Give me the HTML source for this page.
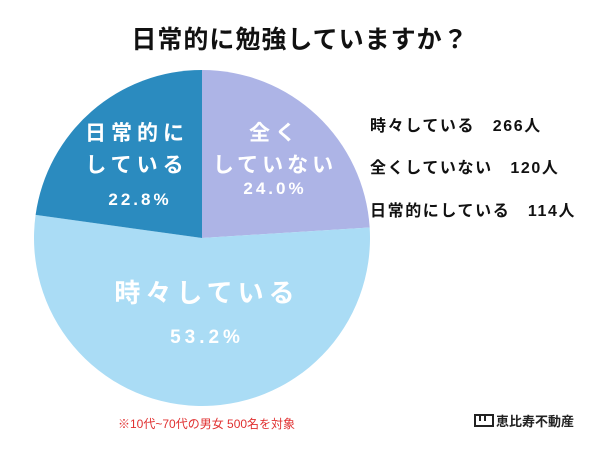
<!DOCTYPE html>
<html><head><meta charset="utf-8"><style>
body{margin:0;width:600px;height:450px;background:#fff;overflow:hidden;font-family:"Liberation Sans","Noto Sans CJK JP",sans-serif;}
</style></head><body>
<svg width="600" height="450" font-family="'Liberation Sans','Noto Sans CJK JP',sans-serif">
<text x="300" y="48" text-anchor="middle" font-size="25" font-weight="bold" fill="#111" letter-spacing="1">日常的に勉強していますか？</text>
<g id="slices"></g>
<g fill="#fff" font-weight="bold" text-anchor="middle">
<text x="137" y="140" font-size="21" letter-spacing="5">日常的に</text>
<text x="137" y="172" font-size="21" letter-spacing="5">している</text>
<text x="140" y="205" font-size="17" letter-spacing="3">22.8%</text>
<text x="275" y="140" font-size="21" letter-spacing="5">全く</text>
<text x="275" y="172" font-size="21" letter-spacing="4">していない</text>
<text x="275" y="194" font-size="17" letter-spacing="3">24.0%</text>
<text x="207" y="302" font-size="26" letter-spacing="5">時々している</text>
<text x="207" y="343" font-size="19" letter-spacing="4">53.2%</text>
</g>
<g font-size="16" font-weight="bold" fill="#111" letter-spacing="1.6">
<text x="370" y="131">時々している　266人</text>
<text x="370" y="173">全くしていない　120人</text>
<text x="370" y="216">日常的にしている　114人</text>
</g>
<text x="118" y="428" font-size="12" fill="#e03030">※10代~70代の男女 500名を対象</text>
<g>
<rect x="475" y="415" width="18" height="11" fill="none" stroke="#222" stroke-width="2"/>
<line x1="480" y1="415" x2="480" y2="421" stroke="#222" stroke-width="2"/>
<line x1="485" y1="415" x2="485" y2="421" stroke="#222" stroke-width="2"/>
<text x="496" y="426" font-size="13" font-weight="bold" fill="#222">恵比寿不動産</text>
</g>
</svg>
<script>
const categories=["全くしていない","時々している","日常的にしている"];
const values=[24.0,53.2,22.8];
const colors=["#adb4e6","#aadcf5","#2b8bbf"];
const cx=202,cy=238,r=168;
const g=document.getElementById('slices');
const total=values.reduce((a,b)=>a+b,0);
let a0=0;
values.forEach((v,i)=>{
  const a1=a0+v/total*2*Math.PI;
  const x0=cx+r*Math.sin(a0),y0=cy-r*Math.cos(a0),x1=cx+r*Math.sin(a1),y1=cy-r*Math.cos(a1);
  const p=document.createElementNS('http://www.w3.org/2000/svg','path');
  p.setAttribute('d',`M${cx},${cy}L${x0},${y0}A${r},${r} 0 ${a1-a0>Math.PI?1:0} 1 ${x1},${y1}Z`);
  p.setAttribute('fill',colors[i]);
  
  
  g.appendChild(p);
  a0=a1;
});
</script>
</body></html>
